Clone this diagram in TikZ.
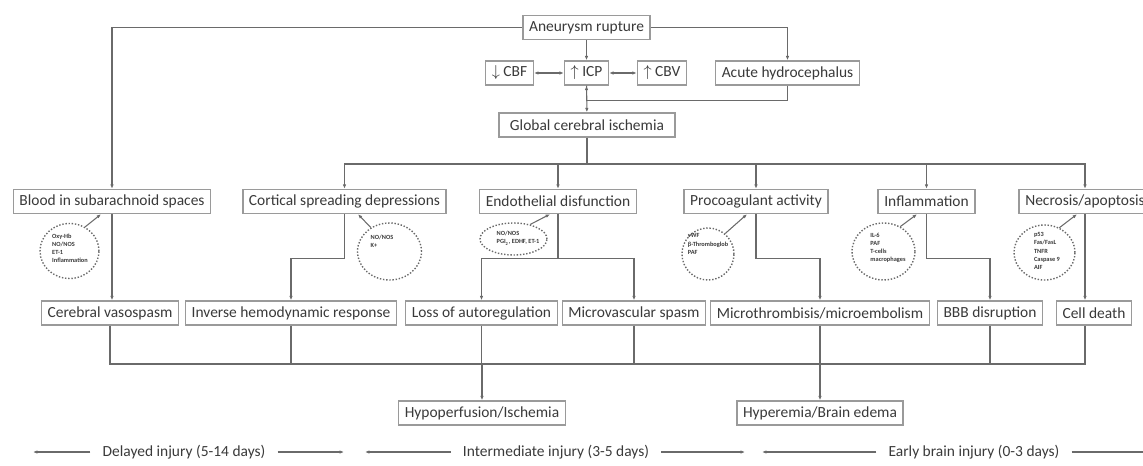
\documentclass[tikz,border=0pt]{standalone}
\usepackage{fontspec}
\setmainfont{Carlito}
\usetikzlibrary{arrows.meta,shapes.geometric,calc}
\definecolor{boxgray}{HTML}{9A9A9A}
\definecolor{linegray}{HTML}{6A6A6A}
\definecolor{textgray}{HTML}{3A3A3A}

\begin{document}
\begin{tikzpicture}[%
    x=0.02cm,
    y=-0.02cm,
    block/.style={
      rectangle,
      draw=boxgray,
      thick,
      fill=white,
      text=textgray,
      font=\fontsize{8.8}{10}\selectfont,
      inner xsep=3.5pt,
      inner ysep=0pt,
      minimum height=0.48cm
    },
    cloud/.style={
      ellipse,
      draw=linegray,
      densely dotted,
      thick,
      inner sep=0pt
    },
    note/.style={
      text=textgray,
      font=\fontsize{3.6}{4.6}\selectfont\bfseries,
      align=left,
      inner sep=0pt
    },
    phase/.style={
      text=textgray,
      font=\fontsize{8.8}{10}\selectfont,
      inner xsep=0.24cm
    },
    wire/.style={
      draw=linegray,
      semithick
    },
    line/.style={
      wire,
      -{Latex[length=2.5pt,width=2pt]}
    },
    both/.style={
      wire,
      {Latex[length=2.5pt,width=2pt]}-{Latex[length=2.5pt,width=2pt]}
    }
  ]
  \useasboundingbox (0,0) rectangle (1143,466);

  % top of the cascade
  \node[block] (rupture) at (586.5,27.5) {Aneurysm rupture};
  \node[block] (cbf) at (509.5,73) {$\downarrow$ CBF};
  \node[block] (icp) at (586.5,73) {$\uparrow$ ICP};
  \node[block] (cbv) at (662,73) {$\uparrow$ CBV};
  \node[block] (hydro) at (787.5,73) {Acute hydrocephalus};
  \node[block, minimum width=3.52cm] (global) at (587,125) {Global cerebral ischemia};

  % mechanisms
  \node[block] (blood) at (112,201.5) {Blood in subarachnoid spaces};
  \node[block] (csd) at (344.5,201.5) {Cortical spreading depressions};
  \node[block] (endo) at (558,201.5) {Endothelial disfunction};
  \node[block] (procoag) at (756,201.5) {Procoagulant activity};
  \node[block] (inflam) at (926.5,201.5) {Inflammation};
  \node[block] (necro) at (1085,201.5) {Necrosis/apoptosis};

  % mediators
  \node[cloud, minimum width=1.18cm, minimum height=1.1cm] (bloodcloud) at (69.5,251) {};
  \node[note] (bloodnote) at (70,248) {Oxy-Hb\\NO/NOS\\ET-1\\Inflammation};
  \node[cloud, minimum width=1.28cm, minimum height=1.14cm] (csdcloud) at (389.5,251.5) {};
  \node[note] (csdnote) at (382,241) {NO/NOS\\K+};
  \node[cloud, minimum width=1.34cm, minimum height=0.64cm] (endocloud) at (513.5,239) {};
  \node[note] (endonote) at (518,238.5) {NO/NOS\\PGI\textsubscript{2}, EDHF, ET-1};
  \node[cloud, minimum width=1.04cm, minimum height=1.04cm] (procloud) at (708,254) {};
  \node[note] (pronote) at (708,244) {vWF\\β-Thromboglob\\PAF};
  \node[cloud, minimum width=1.26cm, minimum height=1.14cm] (inflamcloud) at (883.5,251.5) {};
  \node[note] (inflamnote) at (888,248) {IL-6\\PAF\\T-cells\\macrophages};
  \node[cloud, minimum width=1.22cm, minimum height=1.1cm] (necrocloud) at (1044.5,252.5) {};
  \node[note] (necronote) at (1047,251) {p53\\Fas/FasL\\TNFR\\Caspase 9\\AIF};

  % consequences
  \node[block] (vaso) at (110,313) {Cerebral vasospasm};
  \node[block] (inverse) at (291,313) {Inverse hemodynamic response};
  \node[block] (loss) at (481.5,313) {Loss of autoregulation};
  \node[block] (microspasm) at (634,313) {Microvascular spasm};
  \node[block] (microthromb) at (820,313) {Microthrombisis/microembolism};
  \node[block] (bbb) at (990,313) {BBB disruption};
  \node[block] (celldeath) at (1094,313) {Cell death};

  \node[block] (hypo) at (482,413) {Hypoperfusion/Ischemia};
  \node[block] (hyper) at (820,413) {Hyperemia/Brain edema};

  % connectors
  \draw[line] (rupture) -- (icp);
  \draw[line] (rupture.west) -| (blood);
  \draw[line] (rupture.east) -| (hydro);
  \draw[both] (cbf) -- (icp);
  \draw[both] (icp) -- (cbv);
  \draw[line] (hydro.south) -- ++(0,15) -| (icp);
  \draw[line] (icp) -- (global);
  \coordinate (topbus) at (587,164);
  \draw[wire] (global) -- (topbus);
  \foreach \n in {csd,endo,procoag,inflam,necro}
    \draw[line] (topbus) -| (\n);

  \draw[line] (bloodcloud.57) -- ($(blood.south)+(-11,0)$);
  \draw[line] (csdcloud.128) -- ($(csd.south)+(13.5,0)$);
  \draw[line] (endocloud.41) -- ($(endo.south)+(-8,0)$);
  \draw[line] (procloud.50) -- ($(procoag.south)+(-9,0)$);
  \draw[line] (inflamcloud.56) -- ($(inflam.south)+(-9.5,0)$);
  \draw[line] (necrocloud.59) -- ($(necro.south)+(-8,0)$);

  \draw[line] (blood) -- (blood |- vaso.north);
  \draw[line] (csd.south) -- ++(0,44) -| (inverse);
  \draw[wire] (endo.south) -- ++(0,44) coordinate (endoknee);
  \draw[line] (endoknee) -| (loss);
  \draw[line] (endoknee) -| (microspasm);
  \draw[line] (procoag.south) -- ++(0,44) -| (microthromb);
  \draw[line] (inflam.south) -- ++(0,44) -| (bbb);
  \draw[line] (necro) -- (necro |- celldeath.north);

  \coordinate (botbus) at (587,364);
  \draw[wire] (vaso.south) |- (necro |- botbus) -- (necro |- celldeath.south);
  \foreach \n in {inverse,loss,microspasm,microthromb,bbb}
    \draw[wire] (\n.south) -- (\n |- botbus);
  \draw[line] (hypo |- botbus) -- (hypo);
  \draw[line] (hyper |- botbus) -- (hyper);

  % time scale
  \node[phase] (delayed) at (184,452) {Delayed injury (5-14 days)};
  \coordinate (delayedL) at (33,452);
  \coordinate (delayedR) at (344,452);
  \draw[line] (delayed) -- (delayedL);
  \draw[line] (delayed) -- (delayedR);
  \node[phase] (intermediate) at (556,452) {Intermediate injury (3-5 days)};
  \coordinate (intermediateL) at (365,452);
  \coordinate (intermediateR) at (745,452);
  \draw[line] (intermediate) -- (intermediateL);
  \draw[line] (intermediate) -- (intermediateR);
  \node[phase] (early) at (974,452) {Early brain injury (0-3 days)};
  \coordinate (earlyL) at (762,452);
  \coordinate (earlyR) at (1170,452);
  \draw[line] (early) -- (earlyL);
  \draw[line] (early) -- (earlyR);
\end{tikzpicture}
\end{document}
